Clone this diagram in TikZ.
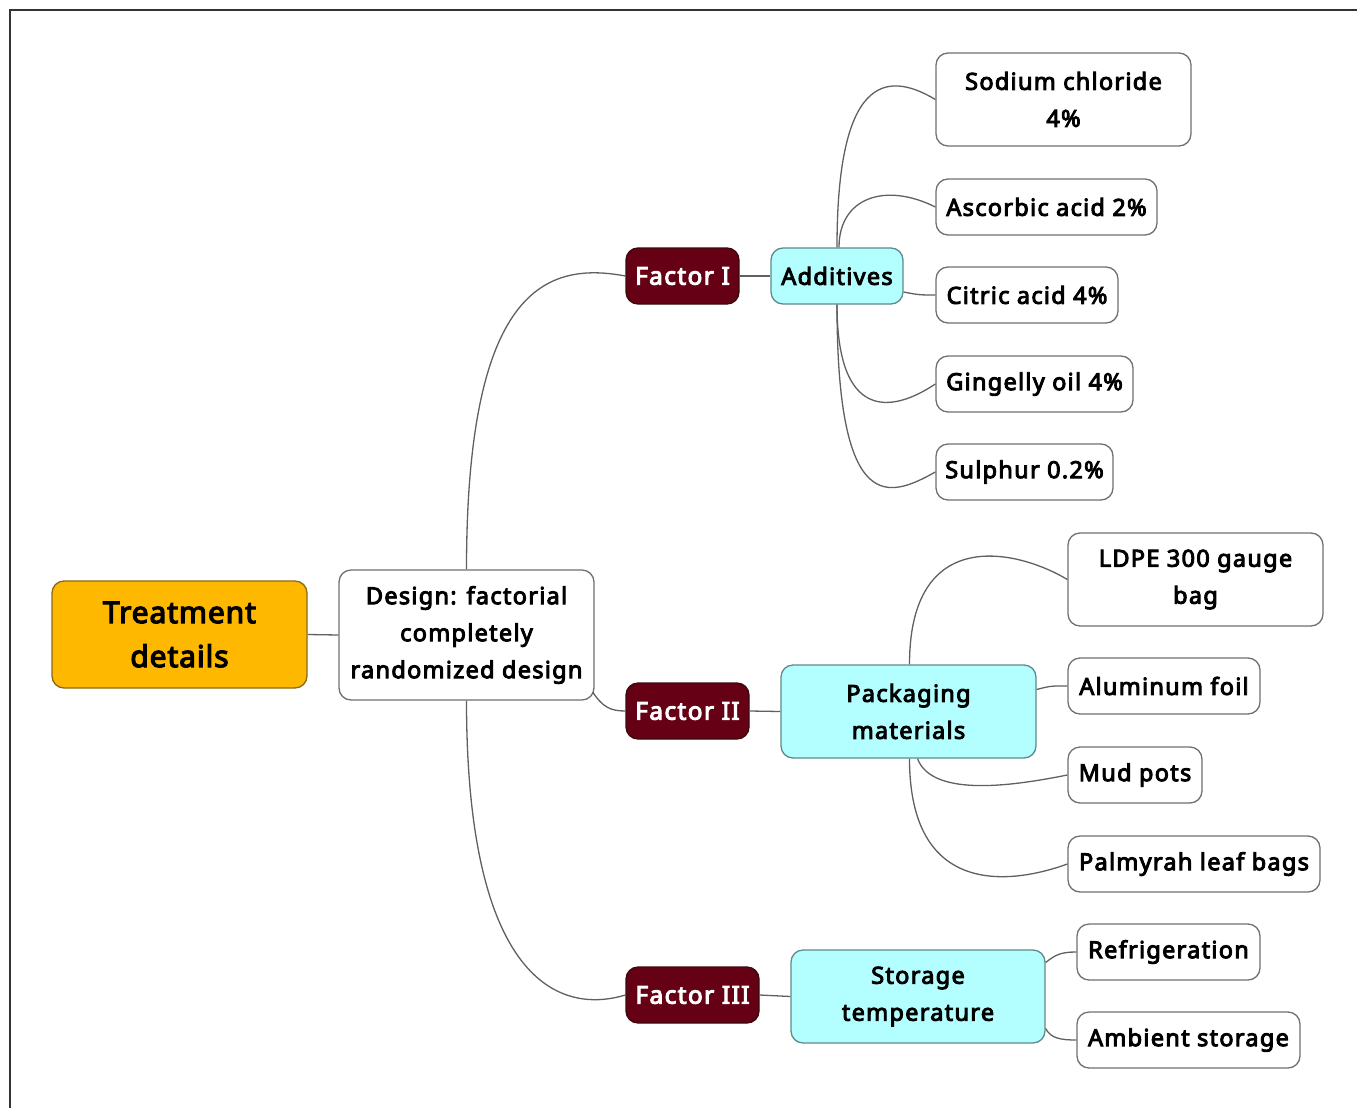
\documentclass[tikz,border=0pt]{standalone}
\usepackage{fontspec}
\setmainfont{Noto Sans}[AutoFakeBold=4,LetterSpace=5.5]
\newfontfamily\rootfont{Noto Sans}[AutoFakeBold=4,LetterSpace=3]
\usetikzlibrary{calc}
\definecolor{rootfill}{HTML}{FFB800}
\definecolor{rootdraw}{HTML}{8C6A10}
\definecolor{facfill}{HTML}{650015}
\definecolor{facdraw}{HTML}{3A0A0A}
\definecolor{cyfill}{HTML}{B3FFFF}
\definecolor{cydraw}{HTML}{5E8A8A}
\definecolor{leafdraw}{HTML}{707070}
\definecolor{linkc}{HTML}{606060}
\tikzset{
  basebox/.style={rounded corners=12pt, line width=1.3pt, align=center, inner sep=0pt,
    font=\bfseries\fontsize{23.5}{37}\selectfont},
  leafbox/.style={basebox, draw=leafdraw, fill=white},
  rootbox/.style={basebox, draw=rootdraw, fill=rootfill, font=\rootfont\bfseries\fontsize{30}{44}\selectfont},
  facbox/.style={basebox, draw=facdraw, fill=facfill, text=white, font=\bfseries\fontsize{24.5}{37}\selectfont},
  cybox/.style={basebox, draw=cydraw, fill=cyfill},
  link/.style={draw=linkc, line width=1.3pt},
  wh/.style 2 args={minimum width=#1pt, minimum height=#2pt}
}
\begin{document}
\begin{tikzpicture}[x=1pt,y=-1pt]
\useasboundingbox (0,0) rectangle (1357,1108);
\draw[line width=2pt, draw=black!80] (9.5,1108) -- (9.5,10) -- (1357,10);

\node[rootbox, wh={255}{107}] (treat) at (179.5,634.5) {Treatment\\details};
\node[leafbox, wh={255}{130}] (design) at (466.5,635) {Design: factorial\\completely\\randomized design};

\node[facbox, wh={113}{56}] (f1) at (682.5,276) {Factor I};
\node[cybox, wh={132}{56}] (add) at (837,276) {Additives};
\node[leafbox, wh={255}{93}] (sod) at (1063.5,99.5) {Sodium chloride\\4\%};
\node[leafbox, wh={221}{56}] (asc) at (1046.5,207) {Ascorbic acid 2\%};
\node[leafbox, wh={182}{56}] (cit) at (1027,295) {Citric acid 4\%};
\node[leafbox, wh={197}{56}] (gin) at (1034.5,384) {Gingelly oil 4\%};
\node[leafbox, wh={177}{56}] (sul) at (1024.5,472) {Sulphur 0.2\%};

\node[facbox, wh={123}{56}] (f2) at (687.5,711) {Factor II};
\node[cybox, wh={255}{93}] (pack) at (908.5,711.5) {Packaging\\materials};
\node[leafbox, wh={255}{93}] (ldpe) at (1195.5,579.5) {LDPE 300 gauge\\bag};
\node[leafbox, wh={192}{56}] (alu) at (1164,686) {Aluminum foil};
\node[leafbox, wh={134}{56}] (mud) at (1135,775) {Mud pots};
\node[leafbox, wh={252}{56}] (palm) at (1194,864) {Palmyrah leaf bags};

\node[facbox, wh={133}{56}] (f3) at (692.5,995) {Factor III};
\node[cybox, wh={254}{93}] (stor) at (918,996.5) {Storage\\temperature};
\node[leafbox, wh={183}{56}] (ref) at (1168.5,952) {Refrigeration};
\node[leafbox, wh={223}{56}] (amb) at (1188.5,1040) {Ambient storage};

\draw[link] (treat.east) -- (design.west);
\draw[link] (design.north) .. controls +(0,-280) and +(-80,-15) .. (f1.west);
\draw[link] ($(design.east)+(-2,57)$) .. controls +(10,15) and +(-15,0) .. (f2.west);
\draw[link] (design.south) .. controls +(0,280) and +(-66,20) .. (f3.west);

\draw[link] (f1.east) -- (add.west);
\draw[link] (add.north) .. controls +(0,-170) and +(-50,-30) .. (sod.west);
\draw[link] ($(add.north)+(2,0)$) .. controls +(0,-50) and +(-50,-25) .. (asc.west);
\draw[link] ($(add.east)+(0,16)$) .. controls +(15,3) and +(-15,0) .. (cit.west);
\draw[link] (add.south) .. controls +(0,115) and +(-45,30) .. (gin.west);
\draw[link] (add.south) .. controls +(0,215) and +(-45,25) .. (sul.west);

\draw[link] (f2.east) -- (pack.west);
\draw[link] ($(pack.north)+(1,0)$) .. controls +(0,-140) and +(-50,-30) .. (ldpe.west);
\draw[link] ($(pack.east)+(0,-22)$) .. controls +(15,-4) and +(-15,0) .. (alu.west);
\draw[link] ($(pack.south)+(9,0)$) .. controls +(15,40) and +(-50,10) .. (mud.west);
\draw[link] ($(pack.south)+(1,0)$) .. controls +(0,140) and +(-55,20) .. (palm.west);

\draw[link] (f3.east) -- (stor.west);
\draw[link] ($(stor.east)+(0,-34)$) .. controls +(10,-8) and +(-15,0) .. (ref.west);
\draw[link] ($(stor.east)+(0,32)$) .. controls +(5,10) and +(-15,0) .. (amb.west);
\end{tikzpicture}
\end{document}
